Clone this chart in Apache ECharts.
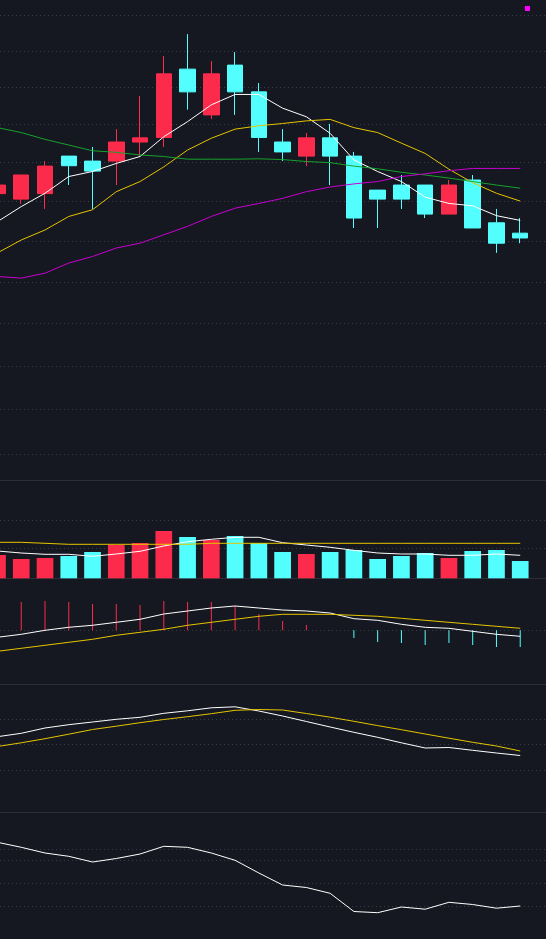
<!DOCTYPE html>
<html>
<head>
<meta charset="utf-8">
<script src="https://cdn.jsdelivr.net/npm/echarts@6/dist/echarts.min.js"></script>
<style>
html,body{margin:0;padding:0;background:#151820;}
#chart{width:546px;height:939px;}
</style>
</head>
<body>
<div id="chart"></div>
<script>
// ---- data ----
const categories = ['1','2','3','4','5','6','7','8','9','10','11','12','13','14','15','16','17','18','19','20','21','22','23'];

// [open, close, low, high]
const candles = [
  [45.20, 45.42, 45.15, 45.47],
  [45.06, 45.68, 44.94, 45.68],
  [45.20, 45.91, 44.81, 46.04],
  [46.17, 45.92, 45.42, 46.17],
  [46.04, 45.78, 44.81, 46.41],
  [46.04, 46.54, 45.42, 46.88],
  [46.54, 46.65, 46.17, 47.77],
  [46.66, 48.37, 46.41, 48.86],
  [48.50, 47.88, 47.40, 49.47],
  [47.26, 48.37, 47.15, 48.72],
  [48.61, 47.88, 47.26, 48.97],
  [47.88, 46.66, 46.28, 48.12],
  [46.54, 46.28, 46.04, 46.88],
  [46.17, 46.65, 45.91, 46.78],
  [46.65, 46.17, 45.42, 47.02],
  [46.17, 44.58, 44.33, 46.28],
  [45.29, 45.06, 44.33, 45.29],
  [45.42, 45.06, 44.81, 45.68],
  [45.42, 44.68, 44.58, 45.42],
  [44.68, 45.42, 44.68, 45.55],
  [45.55, 44.33, 44.33, 45.68],
  [44.46, 43.95, 43.71, 44.81],
  [44.20, 44.08, 43.95, 44.58]
];
const ma5  = [44.49, 44.87, 45.21, 45.64, 45.77, 45.98, 46.16, 46.68, 47.08, 47.53, 47.81, 47.81, 47.44, 47.21, 46.77, 46.07, 45.77, 45.51, 45.11, 44.95, 44.89, 44.64, 44.52];
const ma10 = [43.71, 44.03, 44.28, 44.62, 44.79, 45.25, 45.51, 45.89, 46.33, 46.64, 46.88, 46.97, 47.03, 47.10, 47.14, 46.92, 46.79, 46.51, 46.24, 45.83, 45.48, 45.21, 45.01];
const ma30 = [46.92, 46.79, 46.61, 46.46, 46.31, 46.27, 46.20, 46.16, 46.09, 46.09, 46.09, 46.10, 46.08, 46.03, 46.00, 45.91, 45.84, 45.75, 45.68, 45.60, 45.51, 45.42, 45.34];
const ma60 = [43.13, 43.09, 43.21, 43.46, 43.62, 43.83, 43.95, 44.16, 44.37, 44.62, 44.83, 44.95, 45.08, 45.25, 45.37, 45.45, 45.51, 45.64, 45.71, 45.79, 45.85, 45.85, 45.85];

const volumes   = [23.3, 19.3, 20.3, 22.3, 26.3, 33.3, 35.3, 47.3, 41.3, 38.3, 42.3, 35.3, 26.3, 24.3, 26.3, 28.3, 19.3, 22.3, 25.3, 20.3, 27.3, 28.3, 17.3];
const volMa5    = [27.3, 25.3, 24.0, 24.0, 22.0, 24.3, 27.0, 32.3, 36.6, 39.0, 41.0, 41.0, 35.6, 33.3, 31.0, 28.0, 25.3, 24.3, 24.3, 23.0, 23.0, 24.3, 23.0];
const volMaLong = [36, 36, 35, 34, 34, 34, 34, 34, 34, 35, 35, 35, 35, 35, 35, 35, 35, 35, 35, 35, 35, 35, 35];

const dif  = [-0.07, -0.04, 0.00, 0.03, 0.05, 0.08, 0.11, 0.163, 0.193, 0.223, 0.243, 0.223, 0.203, 0.193, 0.173, 0.116, 0.10, 0.06, 0.03, 0.02, -0.01, -0.04, -0.06];
const dea  = [-0.21, -0.18, -0.15, -0.12, -0.09, -0.05, -0.02, 0.01, 0.05, 0.08, 0.11, 0.14, 0.16, 0.16, 0.16, 0.15, 0.14, 0.12, 0.10, 0.08, 0.06, 0.04, 0.02];
const macd = [0.28, 0.283, 0.293, 0.283, 0.263, 0.263, 0.253, 0.293, 0.283, 0.283, 0.243, 0.163, 0.093, 0.053, 0.004, -0.077, -0.117, -0.127, -0.147, -0.127, -0.147, -0.167, -0.167];

const paneAWhite  = [75.3, 78.7, 84.0, 87.3, 90.0, 92.7, 94.7, 98.7, 101.2, 104.2, 105.2, 101.0, 96.0, 90.5, 85.0, 79.7, 74.7, 69.2, 64.0, 64.5, 61.7, 59.0, 56.5];
const paneAYellow = [65.5, 69.2, 73.3, 77.8, 82.5, 85.8, 89.3, 92.5, 95.3, 98.3, 101.7, 102.5, 102.0, 98.5, 94.8, 90.7, 86.4, 82.3, 78.0, 73.8, 69.7, 66.0, 61.0];

const paneBWhite = [96.7, 91.7, 86.0, 82.7, 77.0, 80.5, 85.0, 92.7, 91.7, 86.0, 78.7, 66.0, 54.0, 51.5, 45.7, 27.5, 26.3, 32.0, 29.8, 36.7, 34.5, 30.8, 33.0];

// grid line values per pane
const priceGridTicks  = [50, 49, 48, 47, 46, 45, 44, 43, 42, 41, 40, 39];
const volumeGridTicks = [30, 58];
const macdGridTicks   = [0];
const paneAGridTicks  = [93, 67.7, 41.7];
const paneBGridTicks  = [89.7, 78.7, 55.7, 32.7];

// ---- styling ----
const UP = '#fd2b4b', DOWN = '#53fffe';
const WHITE = '#ffffff', YELLOW = '#e5c500', GREEN = '#17a22b', MAGENTA = '#c800d2';
const GRIDDOT = '#3a3d47', SEP = '#2c2f38';

const panes = [
  {top: 0,     height: 480.3},
  {top: 480.3, height: 98},
  {top: 578.3, height: 105.7},
  {top: 684,   height: 128},
  {top: 812,   height: 127}
];
const yAxisDefs = [
  {type: 'log', logBase: 10, min: 38.431, max: 50.435},
  {type: 'value', min: 0, max: 98},
  {type: 'value', min: -0.537, max: 0.52},
  {type: 'value', min: 0, max: 128},
  {type: 'value', min: 0, max: 127}
];
const gridTicks = [priceGridTicks, volumeGridTicks, macdGridTicks, paneAGridTicks, paneBGridTicks];

const grids = [], xAxes = [], yAxes = [], series = [];
panes.forEach((p, i) => {
  grids.push({left: -14.4, width: 546.5, top: p.top, height: p.height, outerBoundsMode: 'none', containLabel: false});
});
panes.forEach((p, i) => {
  grids.push({left: 0, width: 546, top: p.top, height: p.height, outerBoundsMode: 'none', containLabel: false});
});
panes.forEach((p, i) => {
  xAxes.push({type: 'category', gridIndex: i, data: categories, show: false, boundaryGap: true});
});
panes.forEach((p, i) => {
  xAxes.push({
    type: 'value', gridIndex: 5 + i, min: 0, max: 1, show: i < 4, position: 'bottom',
    axisLine: {show: true, onZero: false, lineStyle: {color: SEP, width: 1}},
    axisTick: {show: false}, axisLabel: {show: false}, splitLine: {show: false}
  });
});
yAxisDefs.forEach((d, i) => yAxes.push(Object.assign({gridIndex: i, show: false}, d)));
yAxisDefs.forEach((d, i) => yAxes.push(Object.assign({gridIndex: 5 + i, show: false}, d)));

// background dotted grid lines
gridTicks.forEach((ticks, i) => {
  series.push({
    type: 'line', xAxisIndex: 5 + i, yAxisIndex: 5 + i, data: [], z: 0, silent: true,
    markLine: {
      silent: true, z: 0, symbol: ['none', 'none'], animation: false,
      label: {show: false},
      lineStyle: {color: GRIDDOT, type: [1, 3], width: 1},
      emphasis: {disabled: true},
      data: ticks.map(v => ({yAxis: v}))
    }
  });
});

function lineSeries(data, color, xi) {
  return {
    type: 'line', data: data, xAxisIndex: xi, yAxisIndex: xi, symbol: 'none', showSymbol: false,
    smooth: false, silent: true, z: 3,
    lineStyle: {color: color, width: 1}
  };
}

// main pane
series.push({
  type: 'candlestick', xAxisIndex: 0, yAxisIndex: 0, data: candles, barWidth: 16, z: 2, silent: true,
  itemStyle: {color: UP, color0: DOWN, borderColor: UP, borderColor0: DOWN, borderWidth: 1}
});
series.push(lineSeries(ma5, WHITE, 0));
series.push(lineSeries(ma10, YELLOW, 0));
series.push(lineSeries(ma30, GREEN, 0));
series.push(lineSeries(ma60, MAGENTA, 0));

// volume pane
series.push({
  type: 'bar', xAxisIndex: 1, yAxisIndex: 1, barWidth: 16.7, z: 2, silent: true,
  data: volumes.map((v, i) => ({value: v, itemStyle: {color: candles[i][1] >= candles[i][0] ? UP : DOWN}}))
});
series.push(lineSeries(volMa5, WHITE, 1));
series.push(lineSeries(volMaLong, YELLOW, 1));

// MACD pane
series.push({
  type: 'bar', xAxisIndex: 2, yAxisIndex: 2, barWidth: 1, z: 2, silent: true,
  data: macd.map(v => ({value: v, itemStyle: {color: v >= 0 ? UP : DOWN}}))
});
series.push(lineSeries(dif, WHITE, 2));
series.push(lineSeries(dea, YELLOW, 2));

// pane A
series.push(lineSeries(paneAWhite, WHITE, 3));
series.push(lineSeries(paneAYellow, YELLOW, 3));

// pane B
series.push(lineSeries(paneBWhite, WHITE, 4));

const chart = echarts.init(document.getElementById('chart'), null, {renderer: 'canvas'});
chart.setOption({
  backgroundColor: '#151820',
  animation: false,
  grid: grids,
  xAxis: xAxes,
  yAxis: yAxes,
  series: series,
  graphic: [{type: 'rect', left: 525, top: 6, shape: {width: 5, height: 5}, style: {fill: '#ff00ff'}}]
});
</script>
</body>
</html>
